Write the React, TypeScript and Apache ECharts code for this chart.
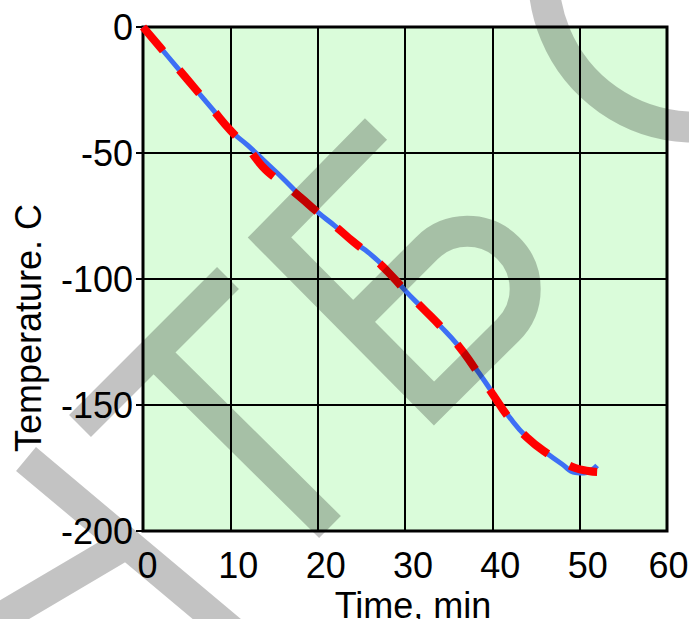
import React, { useEffect, useRef } from "react";
import * as echarts from "echarts";

const xTicks = [0, 10, 20, 30, 40, 50, 60];
const yTicks = [-200, -150, -100, -50, 0];

const timeBlue = [0, 2, 4, 6, 8, 10, 12, 14, 16, 18, 20, 22, 24, 26, 28, 30, 32, 34, 36, 38, 40, 42, 44, 46, 48, 49.5, 50.5, 51.3, 52];
const tempBlue = [0, -8.2, -16.4, -24.6, -32.8, -41, -47, -53.5, -60, -67, -73.5, -79, -85, -90, -96.5, -104.5, -111.5, -118.5, -126, -135, -145, -155, -163, -168.5, -173.5, -176.8, -177, -176, -174];

const timeRed = [0, 2, 4, 6, 8, 10, 12, 13, 14, 15, 16, 18, 20, 22, 24, 26, 28, 30, 32, 34, 36, 38, 40, 42, 44, 46, 48, 49.5, 51, 52];
const tempRed = [0, -8.2, -16.4, -24.6, -32.8, -41, -48, -52.5, -56.5, -59.5, -62, -67.5, -73.5, -79, -85, -90.5, -97, -104.5, -111.5, -118.5, -126, -135.5, -145.5, -155.5, -163, -168.5, -172.5, -175, -176.2, -176.6];

const xName = "Time, min";
const yName = "Temperature. C";

const WM_D =
  "M 80 426 L 228 278 " +
  "M 153 352 L 330 527 " +
  "M 376 129 L 269.5 237.5 L 434 403.5 L 508 330 A 57.5 57.5 0 0 0 508 248 A 57.5 57.5 0 0 0 426.5 248.5 L 353 322 " +
  "M 546 -50 A 151 151 0 0 0 770 107 " +
  "M 26 459 L 280 672 " +
  "M 126.6 543.5 L -20 630";

let registered = false;

export default function App() {
  const ref = useRef<HTMLDivElement>(null);
  useEffect(() => {
    if (!ref.current) return;
    if (!registered) {
      echarts.graphic.registerShape("wmark", echarts.graphic.extendPath(WM_D, {}));
      registered = true;
    }
    const chart = echarts.init(ref.current, null, { renderer: "svg" });
    const font = "'Liberation Sans', Arial, sans-serif";
    const lbl = { fontSize: 36, color: "#000", fontFamily: font };
    chart.setOption({
      animation: false,
      backgroundColor: "#ffffff",
      grid: {
        left: 143,
        right: 22,
        top: 27,
        bottom: 88,
        containLabel: false,
        outerBoundsMode: "none",
        show: true,
        backgroundColor: "#dafcda",
        borderColor: "#000",
        borderWidth: 3,
      },
      xAxis: {
        type: "value",
        min: xTicks[0],
        max: xTicks[xTicks.length - 1],
        interval: 10,
        name: xName,
        nameLocation: "middle",
        nameGap: 53,
        nameTextStyle: { fontSize: 36, color: "#000", fontFamily: font, padding: [0, 0, 0, 16] },
        axisLine: { show: false },
        axisTick: { show: true, length: 8, lineStyle: { color: "#000", width: 2 } },
        axisLabel: {
          fontSize: 36,
          color: "#000",
          fontFamily: font,
          margin: 16,
          formatter: (v: number) => {
            if (v === xTicks[0]) return "{f|" + v + "}";
            if (v === xTicks[xTicks.length - 1]) return "{e|" + v + "}";
            return "{n|" + v + "}";
          },
          rich: {
            f: { ...lbl, padding: [0, 0, 0, 9] },
            n: { ...lbl, padding: [0, 0, 0, 16] },
            e: { ...lbl, padding: [0, 0, 0, 3] },
          },
        },
        splitLine: { show: true, lineStyle: { color: "#000", width: 2 } },
      },
      yAxis: {
        type: "value",
        min: yTicks[0],
        max: yTicks[yTicks.length - 1],
        interval: 50,
        name: yName,
        nameLocation: "middle",
        nameGap: 97,
        nameTextStyle: { fontSize: 36, color: "#000", fontFamily: font, padding: [0, 98, 0, 0] },
        axisLine: { show: false },
        axisTick: { show: true, length: 7, lineStyle: { color: "#000", width: 2 } },
        axisLabel: { fontSize: 36, color: "#000", fontFamily: font, margin: 10, padding: [6, 0, 0, 0] },
        splitLine: { show: true, lineStyle: { color: "#000", width: 2 } },
      },
      series: [
        {
          type: "line",
          data: timeBlue.map((t, i) => [t, tempBlue[i]]),
          smooth: true,
          showSymbol: false,
          lineStyle: { color: "#3d6ff5", width: 5 },
          z: 3,
        },
        {
          type: "line",
          data: timeRed.map((t, i) => [t, tempRed[i]]),
          smooth: true,
          showSymbol: false,
          lineStyle: { color: "#ff0000", width: 8, type: [31, 25], cap: "butt" },
          z: 4,
        },
      ],
      graphic: [
        {
          type: "wmark",
          x: 0,
          y: 0,
          z: 100,
          silent: true,
          style: {
            fill: "none",
            stroke: "rgba(0,0,0,0.235)",
            lineWidth: 31,
            lineCap: "butt",
            lineJoin: "miter",
          },
        },
      ],
    });
    return () => chart.dispose();
  }, []);
  return <div ref={ref} style={{ position: "absolute", left: 0, top: 0, width: 689, height: 619 }} />;
}
